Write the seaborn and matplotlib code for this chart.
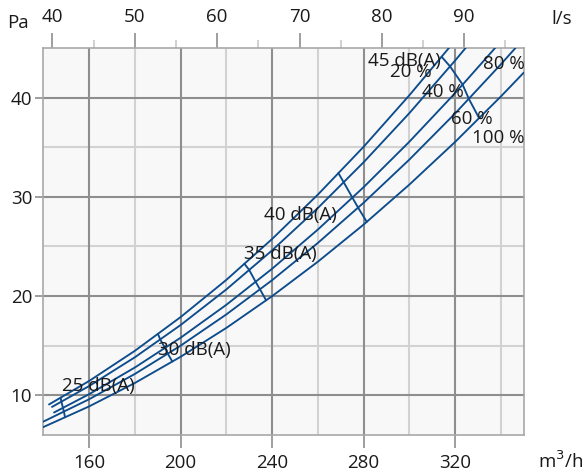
import numpy as np
import pandas as pd
import seaborn as sns
import matplotlib.pyplot as plt

# Kennlinien: Volumenstrom (m3/h) und Druckverlust (Pa) je Oeffnung
openings = ["20 %", "40 %", "60 %", "80 %", "100 %"]
q_20 = [142.5, 160, 180, 200, 220, 240, 260, 280, 300, 317.3]
p_20 = [9.08, 11.44, 14.48, 17.88, 21.63, 25.75, 30.22, 35.04, 40.23, 45.0]
q_40 = [143.8, 160, 180, 200, 220, 240, 260, 280, 300, 320, 324.6]
p_40 = [8.83, 10.93, 13.83, 17.08, 20.67, 24.60, 28.87, 33.48, 38.43, 43.73, 45.0]
q_60 = [144.7, 160, 180, 200, 220, 240, 260, 280, 300, 320, 337.5]
p_60 = [8.27, 10.11, 12.80, 15.80, 19.12, 22.75, 26.70, 30.97, 35.55, 40.45, 45.0]
q_80 = [140, 160, 180, 200, 220, 240, 260, 280, 300, 320, 340, 346.4]
p_80 = [7.35, 9.60, 12.15, 15.0, 18.15, 21.60, 25.35, 29.40, 33.75, 38.40, 43.35, 45.0]
q_100 = [140, 160, 180, 200, 220, 240, 260, 280, 300, 320, 340, 350]
p_100 = [6.80, 8.88, 11.24, 13.88, 16.79, 19.99, 23.46, 27.20, 31.23, 35.53, 40.11, 42.51]

# Schallpegel-Linien: Volumenstrom auf jeder Kennlinie (20 % ... 100 %)
levels = ["25 dB(A)", "30 dB(A)", "35 dB(A)", "40 dB(A)", "45 dB(A)"]
noise_25 = [147.6, 147.9, 148.6, 149.0, 149.5]
noise_30 = [190.1, 191.1, 193.2, 194.4, 196.4]
noise_35 = [227.9, 230.0, 232.8, 234.7, 237.4]
noise_40 = [269.0, 271.3, 275.1, 277.6, 281.4]
noise_45 = [314.1, 317.8, 323.3, 326.0, 330.5]

# Beschriftungen (Position in Datenkoordinaten)
level_x = [148.1, 190.1, 227.9, 268.4, 313.8]
level_y = [10.94, 14.53, 24.26, 28.2, 43.72]
level_ha = ["left", "left", "left", "right", "right"]
open_x = [300.7, 314.8, 327.1, 341.2, 339.0]
open_y = [42.53, 40.56, 37.84, 43.34, 35.97]

sns.set_theme(style="white")
plt.rcParams["font.family"] = ["Open Sans", "DejaVu Sans"]

line_col = "#0d4c8c"
txt_col = "#1a1a1a"
fs = 13.5

fig = plt.figure(figsize=(5.86, 4.76), dpi=100)
ax = fig.add_axes([0.0739, 0.0861, 0.8198, 0.8131])
ax.set_facecolor("#f8f8f8")

curves = [(q_20, p_20), (q_40, p_40), (q_60, p_60), (q_80, p_80), (q_100, p_100)]
rows = []
for name, (q, p) in zip(openings, curves):
    for a, b in zip(q, p):
        rows.append({"q": a, "p": b, "opening": name})
df = pd.DataFrame(rows)

# Gitter
for x in [180, 220, 260, 300, 340]:
    ax.axvline(x, color="#d2d2d2", lw=1.5, zorder=0)
for y in [15, 25, 35]:
    ax.axhline(y, color="#d2d2d2", lw=1.5, zorder=0)
for x in [160, 200, 240, 280, 320]:
    ax.axvline(x, color="#8e8e8e", lw=1.5, zorder=0)
for y in [10, 20, 30, 40]:
    ax.axhline(y, color="#8e8e8e", lw=1.5, zorder=0)

sns.lineplot(data=df, x="q", y="p", hue="opening", units="opening", estimator=None,
             sort=False, palette=[line_col] * 5, lw=1.35, legend=False, ax=ax, zorder=3)

for flows in [noise_25, noise_30, noise_35, noise_40, noise_45]:
    ps = [np.interp(f, q, p) for f, (q, p) in zip(flows, curves)]
    ax.plot(flows, ps, color=line_col, lw=1.35, zorder=3)

for t, x, y, ha in zip(levels, level_x, level_y, level_ha):
    ax.text(x, y, t, ha=ha, va="center", fontsize=fs, color=txt_col, zorder=4)
for t, x, y in zip(openings, open_x, open_y):
    ax.text(x, y, t, ha="center", va="center", fontsize=fs, color=txt_col, zorder=4)

ax.set_xlim(140, 350)
ax.set_ylim(6, 45)
ax.set_xticks([160, 200, 240, 280, 320])
ax.set_yticks([10, 20, 30, 40])
ax.set_xlabel("")
ax.set_ylabel("")
ax.tick_params(axis="x", bottom=True, direction="out", length=9.5, width=1.2,
               color="#8e8e8e", labelsize=fs, labelcolor=txt_col, pad=4.5)
ax.tick_params(axis="y", left=True, direction="out", length=6, width=1.2,
               color="#8e8e8e", labelsize=fs, labelcolor=txt_col, pad=2)
for s in ax.spines.values():
    s.set_color("#a8a8a8")
    s.set_linewidth(1.2)

top = ax.secondary_xaxis("top", functions=(lambda v: v / 3.6, lambda v: v * 3.6))
top.set_xticks([40, 50, 60, 70, 80, 90])
top.set_xticks([45, 55, 65, 75, 85, 95], minor=True)
top.tick_params(which="major", direction="out", length=11, width=1.2, color="#8e8e8e",
                labelsize=fs, labelcolor=txt_col, pad=5)
top.tick_params(which="minor", direction="out", length=5.5, width=1.2, color="#c8c8c8")
top.spines["top"].set_visible(False)

fig.text(18 / 586, 1 - 22.5 / 476, "Pa", ha="center", va="center", fontsize=fs, color=txt_col)
fig.text(561.7 / 586, 1 - 19.5 / 476, "l/s", ha="center", va="center", fontsize=fs, color=txt_col)
fig.text(561 / 586, 1 - 461 / 476, "m$^3$/h", ha="center", va="center", fontsize=fs, color=txt_col)

fig.savefig("out.png", dpi=100)
